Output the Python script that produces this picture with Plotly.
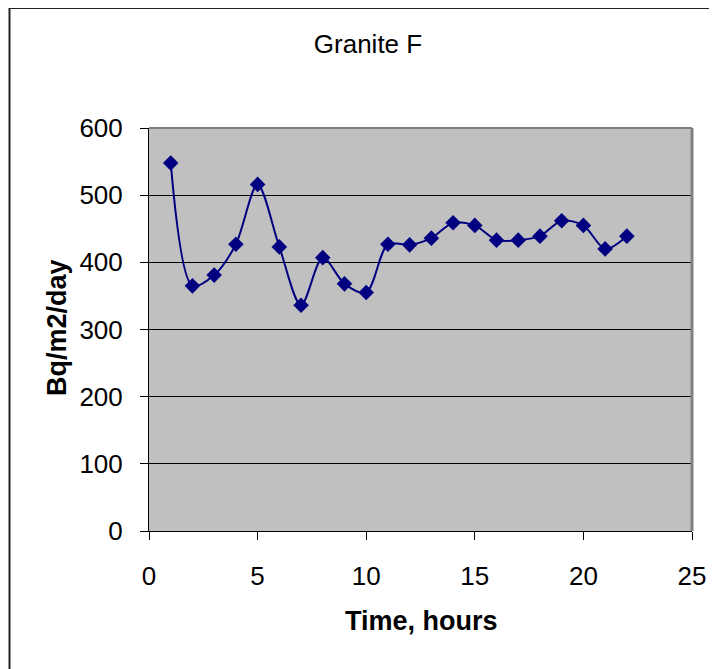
import plotly.graph_objects as go

hours = [1, 2, 3, 4, 5, 6, 7, 8, 9, 10, 11, 12, 13, 14, 15, 16, 17, 18, 19, 20, 21, 22]
flux = [548, 365, 381, 427, 516, 423, 336, 407, 368, 355, 427, 426,
        436, 459, 455, 433, 433, 439, 462, 455, 420, 439]

title_text = "Granite F"
x_title = "Time, hours"
y_title = "Bq/m2/day"
x_ticks = [0, 5, 10, 15, 20, 25]
y_ticks = [0, 100, 200, 300, 400, 500, 600]

FONT = "Liberation Sans, Arial, sans-serif"
OFF = 8  # page body margin in the browser
W, H = 717 - OFF, 669 - OFF
L, R, T, B = 149 - OFF, 25, 128 - OFF, 138
pw, ph = W - L - R, H - T - B

def px_x(x):
    return (x - OFF - L) / pw

def px_y(y):
    return (H - B - (y - OFF)) / ph

fig = go.Figure()
fig.add_trace(go.Scatter(
    x=hours, y=flux, mode="lines+markers",
    line=dict(color="#000080", width=2, shape="spline", smoothing=0.85),
    marker=dict(symbol="diamond", size=12, color="#000080", line=dict(width=0)),
    showlegend=False, cliponaxis=False,
))

fig.update_layout(
    width=W, height=H,
    margin=dict(l=L, r=R, t=T, b=B, pad=0),
    paper_bgcolor="white",
    plot_bgcolor="#C0C0C0",
    font=dict(family=FONT, size=26, color="black"),
    title=dict(text=title_text, x=(368 - OFF) / W, xanchor="center",
               y=1 - (44 - OFF) / H, yanchor="middle",
               font=dict(family=FONT, size=26, color="black")),
    xaxis=dict(range=[0, 25], tickvals=x_ticks, ticks="outside", ticklen=8,
               tickcolor="black", showline=True, linecolor="black", linewidth=1,
               showgrid=False, zeroline=False, ticklabelstandoff=14,
               tickfont=dict(size=26)),
    yaxis=dict(range=[0, 600], tickvals=y_ticks, ticks="outside", ticklen=8,
               tickcolor="black", showline=True, linecolor="black", linewidth=1,
               showgrid=True, gridcolor="black", gridwidth=1, zeroline=False,
               ticklabelstandoff=12, tickfont=dict(size=26)),
    annotations=[
        dict(text="<b>" + x_title + "</b>", xref="paper", yref="paper",
             x=px_x(421), y=px_y(621), xanchor="center", yanchor="middle",
             showarrow=False, font=dict(family=FONT, size=27, color="black")),
        dict(text="<b>" + y_title + "</b>", xref="paper", yref="paper",
             x=px_x(57), y=px_y(328), xanchor="center", yanchor="middle",
             textangle=-90, showarrow=False,
             font=dict(family=FONT, size=27, color="black")),
    ],
    shapes=[
        # outer chart frame: only left and top edges are visible
        dict(type="line", xref="paper", yref="paper",
             x0=px_x(9.5), x1=px_x(9.5), y0=px_y(700), y1=px_y(8),
             line=dict(color="#222222", width=2)),
        dict(type="line", xref="paper", yref="paper",
             x0=px_x(9), x1=px_x(730), y0=px_y(8), y1=px_y(8),
             line=dict(color="#222222", width=2)),
        # plot area border (top/right gray)
        dict(type="line", xref="paper", yref="paper",
             x0=0, x1=1, y0=1, y1=1, line=dict(color="#808080", width=2)),
        dict(type="line", xref="paper", yref="paper",
             x0=1, x1=1, y0=0, y1=1, line=dict(color="#808080", width=3)),
    ],
)

fig.write_html("out.html")
